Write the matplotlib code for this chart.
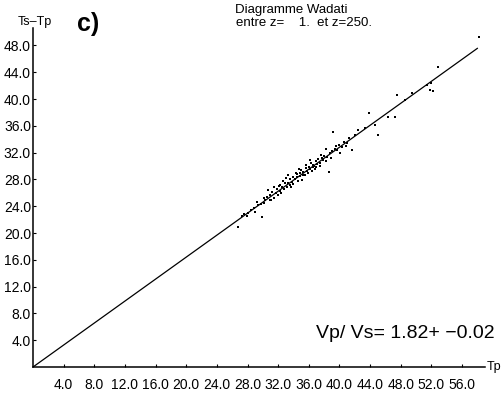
import numpy as np
import matplotlib
matplotlib.use("Agg")
import matplotlib.pyplot as plt

# travel times (Tp, Ts-Tp)
tp = [26.8, 27.3, 27.6, 27.9, 28.1, 28.4, 28.8, 29.0, 29.2, 29.4, 29.7, 29.9,
      30.1, 30.2, 30.3, 30.6, 30.7, 30.9, 31.0, 31.1, 31.2, 31.4, 31.5, 31.7,
      31.9, 32.0, 32.1, 32.2, 32.3, 32.4, 32.5, 32.6, 32.8, 32.9, 33.0, 33.1,
      33.3, 33.3, 33.5, 33.6, 33.7, 33.8, 33.9, 34.0, 34.2, 34.3, 34.4, 34.5,
      34.6, 34.7, 34.8, 34.9, 35.0, 35.1, 35.2, 35.3, 35.5, 35.6, 35.7, 35.8,
      35.9, 36.0, 36.1, 36.2, 36.3, 36.4, 36.5, 36.6, 36.7, 36.8, 36.9, 37.0,
      37.1, 37.2, 37.4, 37.5, 37.6, 37.7, 37.9, 38.0, 38.2, 38.3, 38.4, 38.6,
      38.8, 38.9, 39.0, 39.2, 39.4, 39.5, 39.7, 40.0, 40.1, 40.3, 40.6, 40.8,
      41.0, 41.3, 41.7, 42.0, 42.4, 43.4, 43.8, 44.7, 45.0, 46.3, 47.2, 47.5,
      48.6, 49.5, 51.4, 51.9, 51.8, 52.2, 52.9, 58.2]
ts_tp = [20.9, 22.5, 22.9, 22.6, 23.0, 23.4, 23.7, 23.1, 24.6, 24.2, 24.3, 22.4,
         24.5, 25.3, 24.9, 25.4, 26.4, 25.0, 25.6, 24.9, 26.1, 25.3, 26.8, 26.0,
         26.5, 25.7, 27.0, 27.1, 26.3, 25.9, 26.9, 27.8, 26.6, 27.4, 28.2, 26.8,
         28.7, 27.5, 27.2, 28.0, 26.9, 27.6, 28.4, 27.3, 28.1, 29.0, 28.8, 28.3,
         27.8, 29.6, 28.9, 28.5, 29.4, 27.9, 28.7, 29.1, 28.6, 29.7, 30.1, 29.3,
         28.9, 29.9, 30.9, 29.5, 30.4, 29.2, 29.8, 30.2, 30.0, 29.6, 30.7, 29.8,
         30.3, 31.0, 30.5, 30.0, 31.6, 31.2, 30.9, 31.5, 32.5, 30.8, 31.4, 29.1,
         31.9, 31.2, 32.3, 35.1, 32.6, 33.0, 32.4, 33.1, 32.0, 32.9, 33.6, 33.0,
         33.4, 34.2, 32.4, 34.6, 35.4, 35.7, 37.9, 36.1, 34.6, 37.3, 37.3, 40.6,
         39.9, 40.9, 42.1, 42.4, 41.3, 41.2, 44.8, 49.3]
ratio = 1.82
fit_range = [0.0, 58.0]
x_ticks = np.arange(4, 57, 4)
y_ticks = np.arange(4, 49, 4)

narrow = ["Liberation Sans Narrow", "Liberation Sans", "DejaVu Sans"]
plt.rcParams["font.family"] = narrow

fig = plt.figure(figsize=(5.04, 3.95), dpi=100)
ax = fig.add_axes([33 / 504, 28 / 395, 452 / 504, 339 / 395])

# straight line Ts-Tp = (Vp/Vs - 1) * Tp
fx = np.array(fit_range)
ax.plot(fx, (ratio - 1) * fx, color="black", lw=0.9)
ax.plot(tp, ts_tp, "s", color="black", ms=2.1, mew=0)

ax.set_xlim(0, 59)
ax.set_ylim(0, 50.6)
ax.set_xticks(x_ticks)
ax.set_yticks(y_ticks)
ax.set_xticklabels([f"{v:.1f}" for v in x_ticks])
ax.set_yticklabels([f"{v:.1f}" for v in y_ticks])
ax.tick_params(axis="x", direction="in", length=2, width=0.8, pad=8, labelsize=10)
ax.tick_params(axis="y", direction="in", length=2, width=0.8, pad=1.5, labelsize=10)
for s in ["top", "right"]:
    ax.spines[s].set_visible(False)
for s in ["left", "bottom"]:
    ax.spines[s].set_linewidth(1.1)

fig.text(35 / 504, 1 - 22 / 395, "Ts\u2013Tp", ha="center", va="center", fontsize=9)
fig.text(494 / 504, 1 - 367 / 395, "Tp", ha="center", va="center", fontsize=9)
fig.text(77 / 504, 1 - 24 / 395, "c)", ha="left", va="center", fontsize=18,
         fontweight="bold", family=["Liberation Sans", "DejaVu Sans"])
fig.text(291 / 504, 1 - 10 / 395, "Diagramme Wadati", ha="center", va="center", fontsize=9.5)
fig.text(304 / 504, 1 - 23 / 395, "entre z=    1.  et z=250.", ha="center", va="center", fontsize=9.5)
fig.text(495 / 504, 1 - 333 / 395, "Vp/ Vs= 1.82+ \u22120.02", ha="right", va="center",
         fontsize=14, family=["Liberation Sans", "DejaVu Sans"])

fig.savefig("out.png", dpi=100)
